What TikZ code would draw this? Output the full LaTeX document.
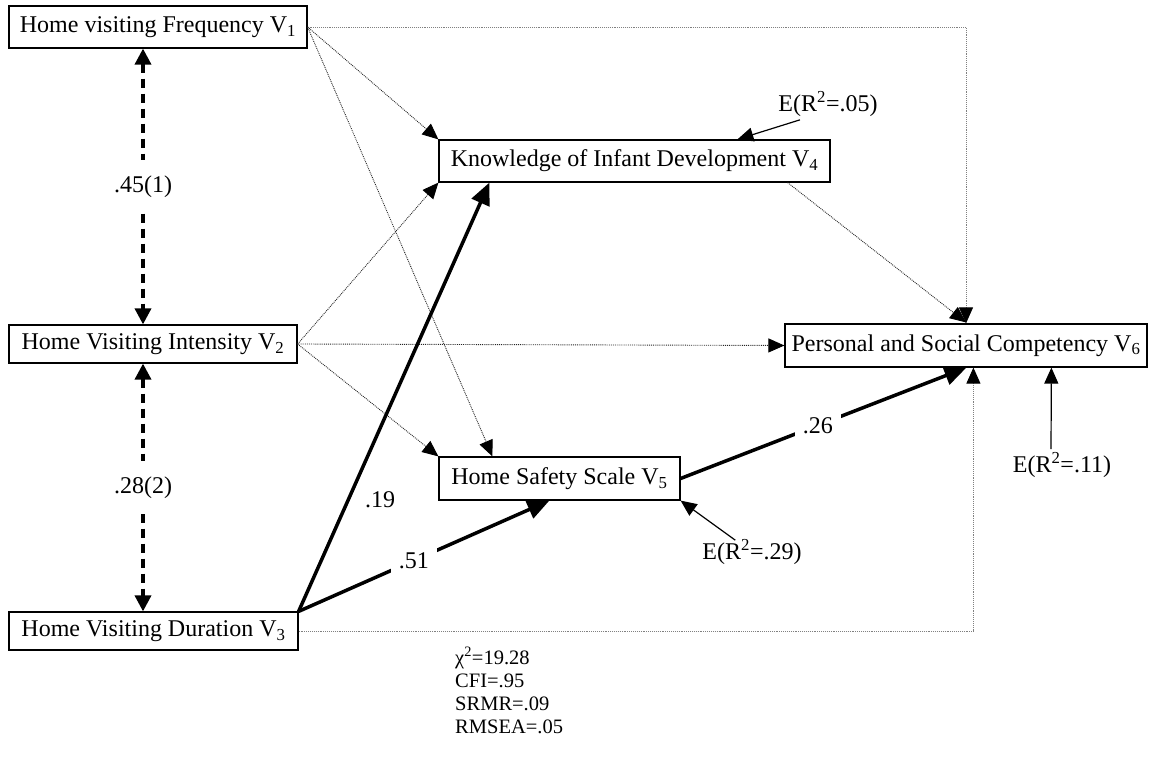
\documentclass[tikz,border=0pt]{standalone}
\usepackage{fontspec}
\setmainfont{Liberation Serif}
\usetikzlibrary{arrows.meta,calc}
\begin{document}
\begin{tikzpicture}[x=1pt,y=-1pt,
  box/.style={draw, line width=1.2pt, inner sep=0pt, font=\fontsize{24}{28}\selectfont},
  lbl/.style={inner sep=3pt, font=\fontsize{24}{28}\selectfont},
  stat/.style={inner sep=0pt, anchor=base west, font=\fontsize{20.5}{23}\selectfont},
  thintip/.style={-{Triangle[length=16pt,width=14pt,color=black]}},
  dotarrow/.style={line width=0.9pt, densely dotted, black!85, thintip},
  dotlight/.style={line width=0.9pt, densely dotted, black!50, thintip},
  corr/.style={line width=3.5pt, dash pattern=on 9pt off 6pt,
    {Triangle[length=16pt,width=16pt]}-{Triangle[length=16pt,width=16pt]}},
  path/.style={line width=3.5pt, -{Triangle[length=22pt,width=19pt]}},
  err/.style={line width=1.2pt, -{Triangle[length=16pt,width=14pt]}}
]
\useasboundingbox (0,0) rectangle (1149,759);

% boxes
\node[box, minimum width=298pt, minimum height=42pt] (V1) at (158,27) {Home visiting Frequency V\textsubscript{1}};
\node[box, minimum width=288pt, minimum height=38pt] (V2) at (153,344) {Home Visiting Intensity V\textsubscript{2}};
\node[box, minimum width=289pt, minimum height=38pt] (V3) at (153.5,631) {Home Visiting Duration V\textsubscript{3}};
\node[box, minimum width=391pt, minimum height=42pt] (V4) at (634.5,161) {Knowledge of Infant Development V\textsubscript{4}};
\node[box, minimum width=241pt, minimum height=43pt] (V5) at (559.5,478.5) {Home Safety Scale V\textsubscript{5}};
\node[box, minimum width=362pt, minimum height=43pt] (V6) at (966,345.5) {Personal and Social Competency V\textsubscript{6}};

% error terms
\node[lbl] (E4) at (828,104) {E(R\textsuperscript{2}=.05)};
\node[lbl] (E5) at (752,552) {E(R\textsuperscript{2}=.29)};
\node[lbl] (E6) at (1062,465) {E(R\textsuperscript{2}=.11)};

% fit statistics
\node[stat] (s1) at (455,664) {χ\textsuperscript{2}=19.28};
\node[stat] (s2) at (455,687) {CFI=.95};
\node[stat] (s3) at (455,710) {SRMR=.09};
\node[stat] (s4) at (455,733) {RMSEA=.05};

\coordinate (cx) at (143,0);

% correlations
\draw[corr] (V1.south -| cx) -- node[lbl, fill=white, inner xsep=6pt, inner ysep=16pt] {.45(1)} (V2.north -| cx);
\draw[corr] (V2.south -| cx) -- node[lbl, fill=white, inner xsep=6pt, inner ysep=16pt] {.28(2)} (V3.north -| cx);

% dotted (non-significant) paths
\draw[dotlight] (V1.east) -| (V6.north);
\draw[dotarrow] ($(V4.south east)+(-43,0)$) -- ($(V6.north)+(0,-1)$);
\draw[dotarrow] (V1.east) -- (V4.north west);
\draw[dotarrow] (V1.east) -- ($(V5.north west)+(54,0)$);
\draw[dotarrow] (V2.east) -- (V4.south west);
\draw[dotarrow] (V2.east) -- (V6.west);
\draw[dotarrow] (V2.east) -- (V5.north west);
\draw[dotlight] (V3.east) -| ($(V6.south west)+(189,0)$);

% significant paths
\draw[path] (V3.north east) -- ($(V4.south west)+(51,0)$);
\node[lbl] (p19) at (380,500) {.19};
\draw[path] (V3.north east) -- node[lbl, fill=white, pos=0.46, inner sep=8pt] {.51} ($(V5.south west)+(111,0)$);
\draw[path] (V5.east) -- node[lbl, fill=white, pos=0.48, inner sep=8pt] {.26} ($(V6.south west)+(182,0)$);

% error arrows
\draw[err] ($(E4.south)+(-28,0)$) -- ($(V4.north west)+(299,0)$);
\draw[err] ($(E5.north west)+(36,4)$) -- (V5.south east);
\draw[err] ($(E6.north)+(-11,0)$) -- ($(V6.south west)+(267,0)$);
\end{tikzpicture}
\end{document}
